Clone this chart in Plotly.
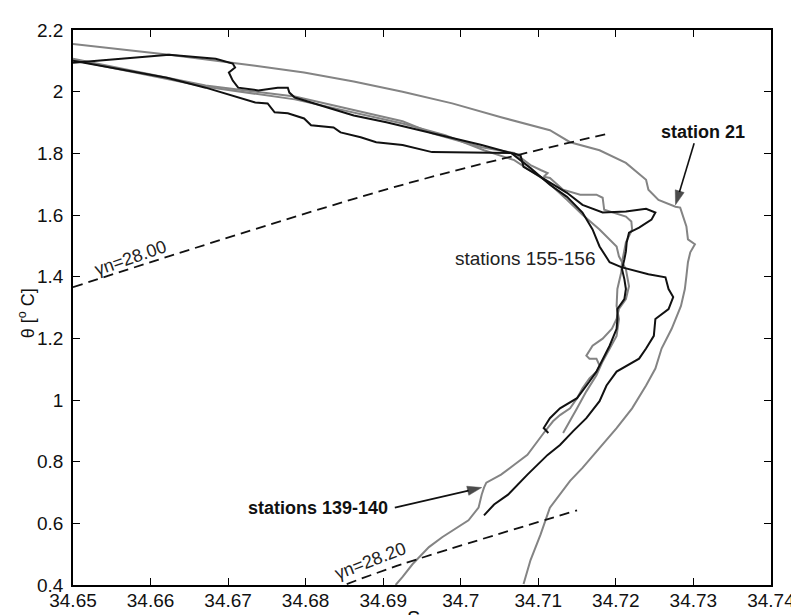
import plotly.graph_objects as go

# ---------------- data (S, theta) ----------------
st21_S = [34.6500, 34.6624, 34.6735, 34.6798, 34.6862, 34.6925, 34.6989, 34.7052, 34.7115, 34.7141,
          34.7179, 34.7213, 34.7239, 34.7242, 34.7255, 34.7277, 34.7283, 34.7287, 34.7291, 34.7293,
          34.7302, 34.7296, 34.7293, 34.7291, 34.7289, 34.7284, 34.7272, 34.7259, 34.7251, 34.7239,
          34.7221, 34.7201, 34.7179, 34.7157, 34.7141, 34.7115, 34.7103, 34.7090, 34.7081]
st21_T = [2.155, 2.120, 2.084, 2.062, 2.033, 2.000, 1.962, 1.917, 1.875, 1.836,
          1.810, 1.769, 1.714, 1.682, 1.649, 1.627, 1.624, 1.595, 1.563, 1.521,
          1.505, 1.479, 1.447, 1.402, 1.360, 1.305, 1.231, 1.167, 1.102, 1.047,
          0.973, 0.909, 0.845, 0.780, 0.738, 0.651, 0.564, 0.481, 0.403]

st139_S = [34.6500, 34.6671, 34.6786, 34.6925, 34.6980, 34.7030, 34.7069, 34.7112, 34.7137, 34.7157,
           34.7179, 34.7201, 34.7204, 34.7213, 34.7217, 34.7213, 34.7204, 34.7201, 34.7195, 34.7183,
           34.7170, 34.7162, 34.7166, 34.7175, 34.7179, 34.7175, 34.7166, 34.7157, 34.7150, 34.7141,
           34.7128, 34.7119, 34.7107, 34.7086, 34.7069, 34.7052, 34.7033, 34.7030, 34.7027, 34.7023,
           34.7010, 34.6989, 34.6976, 34.6959, 34.6938, 34.6925, 34.6916]
st139_T = [2.103, 2.016, 1.975, 1.897, 1.859, 1.810, 1.778, 1.707, 1.649, 1.601,
           1.553, 1.498, 1.466, 1.424, 1.369, 1.327, 1.295, 1.263, 1.231, 1.199,
           1.176, 1.144, 1.134, 1.134, 1.112, 1.092, 1.070, 1.038, 1.006, 0.973,
           0.951, 0.931, 0.893, 0.822, 0.790, 0.758, 0.732, 0.716, 0.693, 0.651,
           0.610, 0.577, 0.555, 0.523, 0.468, 0.426, 0.400]

st140_S = [34.6500, 34.6624, 34.6684, 34.6706, 34.6709, 34.6701, 34.6706, 34.6713, 34.6739, 34.6764,
           34.6777, 34.6779, 34.6786, 34.6820, 34.6862, 34.6904, 34.6947, 34.6989, 34.7027, 34.7065,
           34.7090, 34.7115, 34.7137, 34.7157, 34.7170, 34.7179, 34.7192, 34.7207, 34.7242, 34.7264,
           34.7268, 34.7274, 34.7272, 34.7268, 34.7251, 34.7249, 34.7239, 34.7230, 34.7201, 34.7188,
           34.7179, 34.7162, 34.7145, 34.7128, 34.7112, 34.7086, 34.7061, 34.7043, 34.7030]
st140_T = [2.094, 2.120, 2.107, 2.091, 2.078, 2.062, 2.036, 2.013, 2.004, 2.013,
           2.013, 1.997, 1.981, 1.955, 1.923, 1.901, 1.875, 1.849, 1.827, 1.801,
           1.752, 1.698, 1.659, 1.608, 1.553, 1.498, 1.447, 1.431, 1.408, 1.398,
           1.360, 1.334, 1.321, 1.295, 1.263, 1.208, 1.167, 1.134, 1.092, 1.047,
           0.996, 0.941, 0.899, 0.854, 0.822, 0.758, 0.693, 0.661, 0.626]

st155_S = [34.6500, 34.6671, 34.6786, 34.6925, 34.6963, 34.7027, 34.7069, 34.7090, 34.7103, 34.7112,
           34.7107, 34.7115, 34.7132, 34.7154, 34.7175, 34.7183, 34.7185, 34.7213, 34.7220, 34.7221,
           34.7213, 34.7208, 34.7207, 34.7202, 34.7201, 34.7204, 34.7201, 34.7192, 34.7183, 34.7175,
           34.7162, 34.7150, 34.7141, 34.7132]
st155_T = [2.107, 2.020, 1.984, 1.904, 1.865, 1.820, 1.801, 1.762, 1.746, 1.736,
           1.724, 1.720, 1.682, 1.666, 1.666, 1.656, 1.617, 1.595, 1.579, 1.553,
           1.511, 1.447, 1.414, 1.360, 1.305, 1.263, 1.208, 1.167, 1.125, 1.080,
           1.028, 0.973, 0.931, 0.893]

st156_S = [34.6500, 34.6621, 34.6671, 34.6697, 34.6735, 34.6751, 34.6760, 34.6777, 34.6798, 34.6807,
           34.6836, 34.6845, 34.6871, 34.6891, 34.6925, 34.6963, 34.7027, 34.7065, 34.7077, 34.7081,
           34.7103, 34.7124, 34.7137, 34.7157, 34.7183, 34.7213, 34.7239, 34.7251, 34.7246, 34.7230,
           34.7217, 34.7214, 34.7213, 34.7211, 34.7208, 34.7211, 34.7213, 34.7211, 34.7202, 34.7202,
           34.7201, 34.7192, 34.7183, 34.7175, 34.7166, 34.7157, 34.7150, 34.7128, 34.7115, 34.7107,
           34.7113]
st156_T = [2.100, 2.045, 2.013, 1.994, 1.965, 1.962, 1.933, 1.930, 1.913, 1.891,
           1.884, 1.868, 1.852, 1.836, 1.827, 1.804, 1.801, 1.801, 1.794, 1.756,
           1.724, 1.691, 1.672, 1.633, 1.608, 1.611, 1.620, 1.608, 1.585, 1.559,
           1.543, 1.511, 1.482, 1.456, 1.424, 1.392, 1.360, 1.327, 1.295, 1.263,
           1.231, 1.176, 1.134, 1.092, 1.060, 1.028, 1.006, 0.973, 0.941, 0.909,
           0.893]

gn2800_S = [34.6500, 34.6925, 34.7192]
gn2800_T = [1.366, 1.698, 1.865]
gn2820_S = [34.6853, 34.6925, 34.7150]
gn2820_T = [0.403, 0.468, 0.642]

# annotation arrows (tail -> tip)
arrow21_S = [34.7301, 34.7277]
arrow21_T = [1.833, 1.633]
arrow139_S = [34.6915, 34.7027]
arrow139_T = [0.651, 0.716]

x_ticks = [34.65, 34.66, 34.67, 34.68, 34.69, 34.70, 34.71, 34.72, 34.73, 34.74]
x_ticktext = ["34.65", "34.66", "34.67", "34.68", "34.69", "34.7", "34.71", "34.72", "34.73", "34.74"]
y_ticks = [0.4, 0.6, 0.8, 1.0, 1.2, 1.4, 1.6, 1.8, 2.0, 2.2]
y_ticktext = ["0.4", "0.6", "0.8", "1", "1.2", "1.4", "1.6", "1.8", "2", "2.2"]

GRAY = "#848484"
BLACK = "#111111"
FONT = "Liberation Sans, Arial, Helvetica, sans-serif"

fig = go.Figure()

for S, T, col in [(st21_S, st21_T, GRAY), (st139_S, st139_T, GRAY), (st155_S, st155_T, GRAY),
                  (st140_S, st140_T, BLACK), (st156_S, st156_T, BLACK)]:
    fig.add_trace(go.Scatter(x=S, y=T, mode="lines", line=dict(color=col, width=2),
                             showlegend=False, hoverinfo="skip"))

for S, T in [(gn2800_S, gn2800_T), (gn2820_S, gn2820_T)]:
    fig.add_trace(go.Scatter(x=S, y=T, mode="lines", line_shape="spline",
                             line=dict(color=BLACK, width=1.8, dash="10px,6px"),
                             showlegend=False, hoverinfo="skip"))

for S, T in [(arrow21_S, arrow21_T), (arrow139_S, arrow139_T)]:
    fig.add_trace(go.Scatter(x=S, y=T, mode="lines+markers",
                             line=dict(color=BLACK, width=1.6),
                             marker=dict(symbol=["circle", "arrow"], size=[0, 15], color="#000000",
                                         angleref="previous", line=dict(width=0.5, color="#000000")),
                             showlegend=False, hoverinfo="skip"))

annots = [
    dict(x=34.6574, y=1.462, xref="x", yref="y", text="γn=28.00", showarrow=False,
         textangle=-19, font=dict(size=18, color="#222", family=FONT)),
    dict(x=34.6883, y=0.478, xref="x", yref="y", text="γn=28.20", showarrow=False,
         textangle=-21, font=dict(size=18, color="#222", family=FONT)),
    dict(x=34.7312, y=1.868, xref="x", yref="y", text="<b>station 21</b>", showarrow=False,
         font=dict(size=18, color="#111", family=FONT)),
    dict(x=34.7084, y=1.459, xref="x", yref="y", text="stations 155-156", showarrow=False,
         font=dict(size=19, color="#222", family=FONT)),
    dict(x=34.6816, y=0.651, xref="x", yref="y", text="<b>stations 139-140</b>", showarrow=False,
         font=dict(size=18, color="#111", family=FONT)),
    # axis titles
    dict(x=0.488, y=-0.060, xref="paper", yref="paper", text="S", showarrow=False,
         xanchor="center", yanchor="middle", font=dict(size=20, color="#111", family=FONT)),
    dict(x=-0.067, y=0.49, xref="paper", yref="paper", text="θ [<sup>o</sup> C]", showarrow=False,
         textangle=-90, xanchor="center", yanchor="middle",
         font=dict(size=18, color="#111", family=FONT)),
]

axis_common = dict(showgrid=False, zeroline=False, showline=True, linecolor="black", linewidth=1.5,
                   mirror="ticks", ticks="inside", ticklen=7, tickwidth=1.3, tickcolor="black",
                   tickfont=dict(size=19, color="#111", family=FONT))

fig.update_layout(
    width=799, height=615,
    margin=dict(l=65, r=25, t=19, b=37),
    paper_bgcolor="white", plot_bgcolor="white",
    xaxis=dict(range=[34.65, 34.74001], tickmode="array", tickvals=x_ticks, ticktext=x_ticktext,
               ticklabelstandoff=-3, **axis_common),
    yaxis=dict(range=[0.4, 2.2], tickmode="array", tickvals=y_ticks, ticktext=y_ticktext,
               ticklabelstandoff=4, **axis_common),
    annotations=annots,
    showlegend=False,
)

fig.write_html("out.html")
